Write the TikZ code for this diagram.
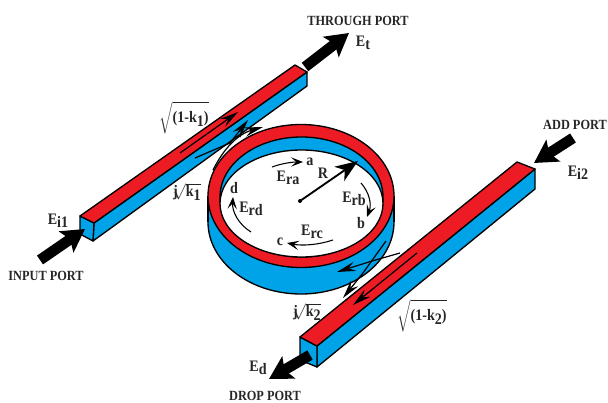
\documentclass[tikz,border=0pt]{standalone}
\usepackage{fontspec}
\setmainfont{Liberation Serif}[FakeStretch=0.88]
\usetikzlibrary{arrows.meta}
\definecolor{ringred}{HTML}{ED1C24}
\definecolor{ringblue}{HTML}{00A2E8}
\newcommand{\sub}[1]{\raisebox{-0.45ex}{#1}}
\newcommand{\tallroot}[1]{$\sqrt{\mbox{\rule[-8.5pt]{0pt}{23pt}#1}}$}
\begin{document}
\begin{tikzpicture}[
    x=0.75pt, y=-0.75pt,
    topface/.style={draw=black, fill=ringred, line width=1pt, line join=round},
    sideface/.style={draw=black, fill=ringblue, line width=1pt, line join=round},
    port/.style={-{Stealth[length=17pt, width=19pt, inset=3.5pt]}, line width=8pt, black},
    wave/.style={-{Stealth[length=14pt, width=7pt, inset=5pt]}, line width=0.9pt, black},
    field/.style={-{Stealth[length=9pt, width=7pt, inset=4pt]}, line width=0.8pt, black},
    lab/.style={font=\bfseries\fontsize{10.5}{12}\selectfont, inner sep=0pt, text=black!85},
    sym/.style={font=\bfseries\fontsize{12}{14}\selectfont, inner sep=0pt, text=black!85}
]
\useasboundingbox (0,0) rectangle (608,403);

% Upper waveguide
\draw[sideface] (94,223) -- (307,72) -- (307,86) -- (93,241) -- cycle;
\draw[sideface] (80,216) -- (94,223) -- (93,241) -- (80,234) -- cycle;
\draw[topface] (80,216) -- (295,65) -- (307,72) -- (94,223) -- cycle;

% Lower waveguide
\draw[sideface] (317,346) -- (535,169) -- (535,189) -- (317,367) -- cycle;
\draw[sideface] (300,337) -- (317,346) -- (317,367) -- (300,360) -- cycle;
\draw[topface] (300,337) -- (517,162) -- (535,169) -- (317,346) -- cycle;

% Ring
\draw[sideface] (301,222) ellipse (93 and 72);
\fill[ringblue] (208.5,196) rectangle (393.5,222);
\draw[line width=1pt] (208,196) -- (208,222);
\draw[line width=1pt] (394,196) -- (394,222);
\draw[topface] (301,196) ellipse (93 and 71.5);
\draw[sideface] (301.5,197) ellipse (81.5 and 60);
\draw[line width=1pt, fill=white] (301.5,203.5) ellipse (81.5 and 53.5);

% Ports
\coordinate (throughtail) at (305,67);
\coordinate (throughtip) at (349,33);
\coordinate (addtail) at (573,138);
\coordinate (addtip) at (534,163);
\coordinate (inputtail) at (40,260);
\coordinate (inputtip) at (85,229);
\coordinate (droptail) at (310,355);
\coordinate (droptip) at (269,379);
\draw[port] (throughtail) -- (throughtip);
\draw[port] (addtail) -- (addtip);
\draw[port] (inputtail) -- (inputtip);
\draw[port] (droptail) -- (droptip);

% Coupling arrows
\draw[wave] (180,153) -- (238,112);
\draw[wave] (195,158) -- (230,143) -- (248,120);
\draw[wave] (213,170) .. controls (224,148) and (238,134) .. (263,127);
\draw[wave] (417,253) -- (353,305);
\draw[wave] (400,253) -- (372,261) -- (337,272);
\draw[wave] (386,241) -- (363,273) -- (343,298);

% Ring fields
\draw[field] (272,167) .. controls (283,163) and (293,162) .. (303,162);
\draw[field] (361,183) .. controls (369,192) and (372,204) .. (367,217);
\draw[field] (333,240) .. controls (318,245) and (302,246) .. (287,243);
\draw[field] (251,232) .. controls (238,224) and (232,211) .. (233,197);
\fill (300,201) circle (2);
\draw[-{Stealth[length=17pt, width=13pt, inset=5pt]}, line width=1.4pt] (300,201) -- (358,161);

% Labels
\node[lab] (through) at (358,21) {THROUGH PORT};
\node[lab] (add) at (575,125) {ADD PORT};
\node[lab] (input) at (46,276) {INPUT PORT};
\node[lab] (drop) at (265,396) {DROP PORT};
\node[sym] (et) at (363,43) {E\sub{t}};
\node[sym] (ei2) at (578,173) {E\sub{i2}};
\node[sym] (ei1) at (58,221) {E\sub{i1}};
\node[sym] (ed) at (258,368) {E\sub{d}};
\node[sym] (root1) at (184,118) {\tallroot{(1-k\sub{1})}};
\node[sym] (root2) at (422,316) {\tallroot{(1-k\sub{2})}};
\node[sym] (couple1) at (187,192) {j$\!\!\sqrt{\mbox{k\sub{1}}}$};
\node[sym] (couple2) at (307,312) {j$\!\!\sqrt{\mbox{k\sub{2}}}$};
\node[sym] (era) at (288,178) {E\sub{ra}};
\node[sym] (erb) at (354,199) {E\sub{rb}};
\node[sym] (erc) at (312,232) {E\sub{rc}};
\node[sym] (erd) at (251,209) {E\sub{rd}};
\node[sym] (a) at (310,162) {a};
\node[sym] (b) at (361,223) {b};
\node[sym] (c) at (280,242) {c};
\node[sym] (d) at (234,188) {d};
\node[sym] (radius) at (323,173) {R};

\end{tikzpicture}
\end{document}
